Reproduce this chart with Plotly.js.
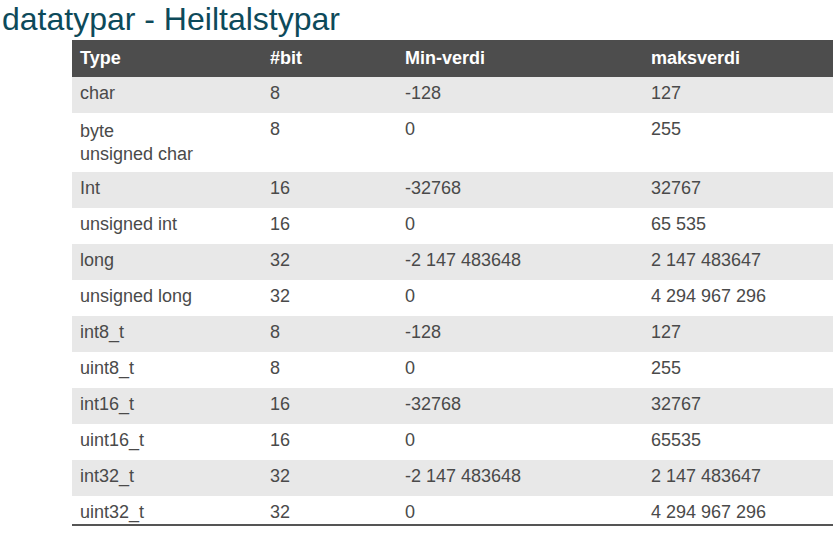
<!DOCTYPE html>
<html>
<head>
<meta charset="utf-8">
<script src="https://cdn.plot.ly/plotly-3.0.1.min.js"></script>
<style>body{margin:0}#plot{width:836px;height:533px}</style>
</head>
<body>
<div id="plot"></div>
<script>
const headers = ["Type", "#bit", "Min-verdi", "maksverdi"];
const types = ["char", "byte<br>unsigned char", "Int", "unsigned int", "long", "unsigned long",
  "int8_t", "uint8_t", "int16_t", "uint16_t", "int32_t", "uint32_t"];
const bits = ["8", "8", "16", "16", "32", "32", "8", "8", "16", "16", "32", "32"];
const minValues = ["-128", "0", "-32768", "0", "-2 147 483648", "0", "-128", "0", "-32768", "0", "-2 147 483648", "0"];
const maxValues = ["127", "255", "32767", "65 535", "2 147 483647", "4 294 967 296", "127", "255", "32767", "65535", "2 147 483647", "4 294 967 296"];

const rowColors = types.map((t, i) => (i % 2 === 0 ? "#e8e8e8" : "#ffffff"));

const trace = {
  type: "table",
  columnwidth: [190, 135, 246, 190],
  domain: { x: [72 / 836, 833 / 836], y: [0, 1 - 40 / 533] },
  header: {
    values: headers.map((h) => "<b>" + h + "</b>"),
    fill: { color: "#4d4d4d" },
    line: { color: "#4d4d4d", width: 0 },
    font: { family: "Liberation Sans, Arial, sans-serif", size: 18, color: "#ffffff" },
    align: "left",
    height: 37,
  },
  cells: {
    values: [types, bits, minValues, maxValues],
    fill: { color: [rowColors] },
    line: { color: "rgba(0,0,0,0)", width: 0 },
    font: { family: "Liberation Sans, Arial, sans-serif", size: 18, color: "#4a4a4a" },
    align: "left",
    height: 36,
  },
};

const layout = {
  width: 836,
  height: 533,
  margin: { l: 0, r: 0, t: 0, b: 0 },
  paper_bgcolor: "#ffffff",
  showlegend: false,
  annotations: [{
    text: "datatypar - Heiltalstypar",
    xref: "paper", yref: "paper", x: 0, y: 1 - 19 / 533,
    xanchor: "left", yanchor: "middle", showarrow: false,
    font: { family: "Liberation Sans, Arial, sans-serif", size: 32, color: "#0d4a5a" },
  }],
  shapes: [{
    type: "line", xref: "paper", yref: "paper",
    x0: 72 / 836, x1: 833 / 836, y0: 1 - 525 / 533, y1: 1 - 525 / 533,
    line: { color: "#555555", width: 2 },
  }],
};

Plotly.newPlot(document.querySelector("#plot"), [trace], layout, { displayModeBar: false });
</script>
</body>
</html>
